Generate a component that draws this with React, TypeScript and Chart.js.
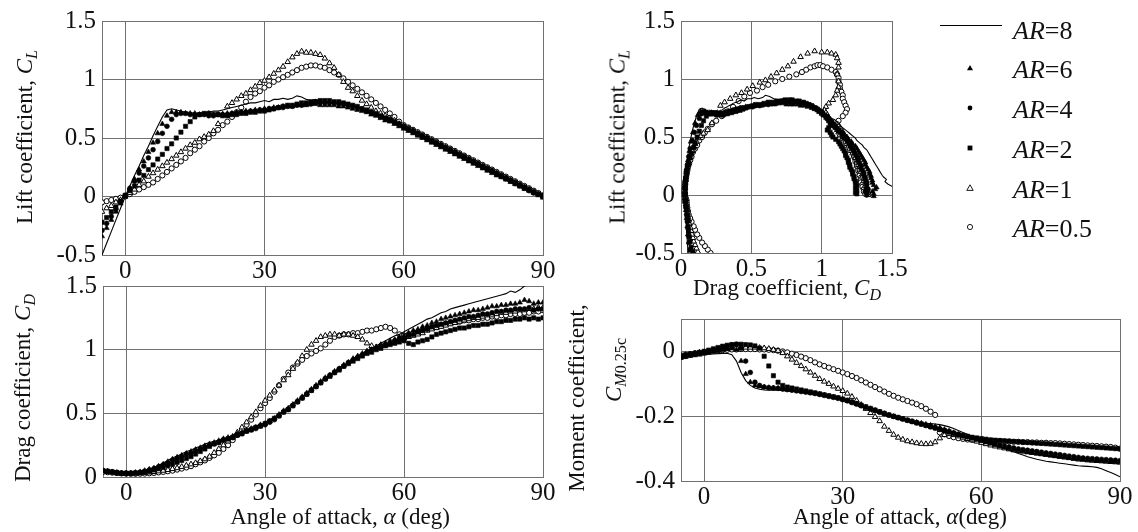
import React, { useEffect, useRef } from "react";
import { Chart, registerables } from "chart.js";

Chart.register(...registerables);

const W = 1138;
const H = 532;

// ---------------- DATA ----------------
const ALPHA = [
  -5, -4, -3, -2, -1, 0, 1, 2, 3, 4,
  5, 6, 7, 8, 9, 10, 11, 12, 13, 14,
  15, 16, 17, 18, 19, 20, 21, 22, 23, 24,
  25, 26, 27, 28, 29, 30, 31, 32, 33, 34,
  35, 36, 37, 38, 39, 40, 41, 42, 43, 44,
  45, 46, 47, 48, 49, 50, 51, 52, 53, 54,
  55, 56, 57, 58, 59, 60, 61, 62, 63, 64,
  65, 66, 67, 68, 69, 70, 71, 72, 73, 74,
  75, 76, 77, 78, 79, 80, 81, 82, 83, 84,
  85, 86, 87, 88, 89, 90,
];
// negative angles below the plotted range (seen only in the drag polar)
const ALPHA_NEG = [-20, -19, -18, -17, -16, -15, -14, -13, -12, -11, -10, -9, -8, -7, -6];

// AR = 8 (solid line)
const AR8_CL = [
  -0.5, -0.4, -0.3, -0.2, -0.1, 0.0, 0.09, 0.18, 0.26, 0.35,
  0.43, 0.52, 0.6, 0.68, 0.74, 0.75, 0.74, 0.73, 0.72, 0.72,
  0.71, 0.71, 0.72, 0.72, 0.73, 0.73, 0.74, 0.75, 0.76, 0.77,
  0.78, 0.79, 0.8, 0.8, 0.81, 0.82, 0.81, 0.83, 0.83, 0.84,
  0.83, 0.84, 0.86, 0.85, 0.83, 0.82, 0.83, 0.81, 0.82, 0.8,
  0.8, 0.79, 0.79, 0.78, 0.77, 0.76, 0.74, 0.73, 0.71, 0.7,
  0.68, 0.66, 0.65, 0.63, 0.61, 0.59, 0.57, 0.55, 0.53, 0.51,
  0.49, 0.47, 0.45, 0.43, 0.41, 0.39, 0.37, 0.35, 0.33, 0.31,
  0.29, 0.27, 0.25, 0.23, 0.21, 0.19, 0.17, 0.155, 0.135, 0.115,
  0.095, 0.075, 0.055, 0.035, 0.015, 0.0,
];
const AR8_CD = [
  0.05, 0.045, 0.04, 0.035, 0.03, 0.03, 0.03, 0.035, 0.04, 0.05,
  0.06, 0.075, 0.09, 0.11, 0.13, 0.15, 0.165, 0.18, 0.2, 0.21,
  0.23, 0.24, 0.26, 0.27, 0.28, 0.29, 0.3, 0.31, 0.33, 0.34,
  0.36, 0.37, 0.39, 0.4, 0.41, 0.43, 0.45, 0.47, 0.5, 0.52,
  0.55, 0.58, 0.6, 0.63, 0.66, 0.69, 0.72, 0.75, 0.78, 0.8,
  0.83, 0.86, 0.88, 0.9, 0.93, 0.95, 0.97, 0.99, 1.01, 1.03,
  1.05, 1.07, 1.09, 1.11, 1.12, 1.14, 1.16, 1.18, 1.2, 1.22,
  1.24, 1.25, 1.27, 1.29, 1.3, 1.32, 1.33, 1.34, 1.35, 1.36,
  1.37, 1.38, 1.39, 1.4, 1.41, 1.42, 1.43, 1.44, 1.46, 1.45,
  1.47, 1.5, 1.52, 1.54, 1.55, 1.56,
];
const AR8_CM = [
  -0.017, -0.015, -0.013, -0.012, -0.011, -0.01, -0.009, -0.008, -0.007, -0.006,
  -0.006, -0.01, -0.03, -0.065, -0.09, -0.105, -0.113, -0.117, -0.119, -0.12,
  -0.12, -0.12, -0.121, -0.122, -0.123, -0.124, -0.125, -0.127, -0.129, -0.131,
  -0.133, -0.136, -0.139, -0.142, -0.146, -0.15, -0.155, -0.16, -0.165, -0.17,
  -0.175, -0.18, -0.186, -0.191, -0.196, -0.2, -0.204, -0.208, -0.211, -0.214,
  -0.216, -0.218, -0.22, -0.222, -0.223, -0.224, -0.226, -0.229, -0.233, -0.238,
  -0.244, -0.25, -0.256, -0.262, -0.268, -0.274, -0.28, -0.285, -0.29, -0.295,
  -0.3, -0.305, -0.31, -0.315, -0.32, -0.325, -0.329, -0.333, -0.336, -0.339,
  -0.341, -0.343, -0.345, -0.347, -0.349, -0.351, -0.353, -0.354, -0.355, -0.356,
  -0.358, -0.362, -0.368, -0.374, -0.38, -0.387,
];
const AR8_CL_NEG = [-0.73, -0.72, -0.72, -0.71, -0.71, -0.72, -0.72, -0.73, -0.74, -0.75, -0.75, -0.74, -0.69, -0.64, -0.58];
const AR8_CD_NEG = [0.29, 0.28, 0.26, 0.25, 0.23, 0.22, 0.2, 0.19, 0.17, 0.15, 0.13, 0.11, 0.09, 0.075, 0.06];

// AR = 6 (filled triangle)
const AR6_CL = [
  -0.34, -0.27, -0.2, -0.13, -0.06, 0.0, 0.07, 0.15, 0.23, 0.3,
  0.38, 0.46, 0.54, 0.62, 0.69, 0.72, 0.72, 0.72, 0.71, 0.71,
  0.71, 0.7, 0.7, 0.71, 0.7, 0.7, 0.7, 0.71, 0.71, 0.72,
  0.72, 0.73, 0.73, 0.74, 0.74, 0.75, 0.75, 0.76, 0.76, 0.77,
  0.77, 0.77, 0.78, 0.78, 0.78, 0.79, 0.79, 0.78, 0.78, 0.78,
  0.78, 0.77, 0.77, 0.76, 0.75, 0.74, 0.73, 0.72, 0.7, 0.69,
  0.67, 0.65, 0.64, 0.62, 0.6, 0.58, 0.56, 0.54, 0.52, 0.5,
  0.48, 0.46, 0.44, 0.42, 0.4, 0.38, 0.36, 0.34, 0.32, 0.3,
  0.28, 0.26, 0.24, 0.22, 0.2, 0.18, 0.165, 0.145, 0.125, 0.105,
  0.085, 0.065, 0.05, 0.03, 0.01, -0.01,
];
const AR6_CD = [
  0.05, 0.045, 0.04, 0.035, 0.03, 0.03, 0.03, 0.035, 0.04, 0.05,
  0.06, 0.07, 0.085, 0.1, 0.12, 0.14, 0.155, 0.17, 0.185, 0.2,
  0.215, 0.23, 0.245, 0.26, 0.27, 0.285, 0.3, 0.31, 0.32, 0.34,
  0.35, 0.37, 0.38, 0.39, 0.41, 0.42, 0.44, 0.46, 0.49, 0.52,
  0.54, 0.57, 0.6, 0.63, 0.66, 0.69, 0.72, 0.75, 0.78, 0.8,
  0.83, 0.85, 0.88, 0.9, 0.93, 0.95, 0.97, 0.99, 1.0, 1.02,
  1.04, 1.05, 1.07, 1.08, 1.1, 1.11, 1.13, 1.15, 1.16, 1.18,
  1.19, 1.21, 1.22, 1.24, 1.25, 1.26, 1.27, 1.28, 1.29, 1.3,
  1.31, 1.31, 1.32, 1.33, 1.34, 1.34, 1.35, 1.35, 1.36, 1.36,
  1.37, 1.39, 1.38, 1.36, 1.37, 1.37,
];
const AR6_CM = [
  -0.02, -0.017, -0.014, -0.012, -0.01, -0.007, -0.004, -0.001, 0.002, 0.005,
  0.008, 0.01, 0.005, -0.03, -0.07, -0.095, -0.105, -0.108, -0.11, -0.112,
  -0.113, -0.114, -0.115, -0.117, -0.119, -0.121, -0.123, -0.125, -0.128, -0.13,
  -0.132, -0.135, -0.138, -0.141, -0.144, -0.148, -0.152, -0.157, -0.162, -0.167,
  -0.172, -0.177, -0.182, -0.187, -0.192, -0.197, -0.201, -0.205, -0.209, -0.213,
  -0.216, -0.219, -0.222, -0.225, -0.228, -0.232, -0.236, -0.241, -0.246, -0.251,
  -0.256, -0.261, -0.265, -0.269, -0.273, -0.277, -0.281, -0.285, -0.289, -0.293,
  -0.296, -0.299, -0.302, -0.305, -0.308, -0.311, -0.313, -0.315, -0.317, -0.319,
  -0.321, -0.323, -0.325, -0.327, -0.329, -0.331, -0.333, -0.334, -0.335, -0.336,
  -0.337, -0.338, -0.339, -0.34, -0.341, -0.342,
];
const AR6_CL_NEG = [-0.71, -0.71, -0.7, -0.7, -0.7, -0.7, -0.71, -0.71, -0.71, -0.72, -0.69, -0.62, -0.55, -0.48, -0.41];
const AR6_CD_NEG = [0.27, 0.26, 0.24, 0.23, 0.21, 0.2, 0.18, 0.17, 0.15, 0.13, 0.1, 0.085, 0.072, 0.063, 0.056];

// AR = 4 (filled circle)
const AR4_CL = [
  -0.29, -0.23, -0.17, -0.11, -0.05, 0.01, 0.07, 0.13, 0.2, 0.26,
  0.33, 0.4, 0.47, 0.54, 0.6, 0.66, 0.7, 0.71, 0.71, 0.7,
  0.7, 0.7, 0.7, 0.69, 0.69, 0.7, 0.7, 0.7, 0.71, 0.71,
  0.72, 0.72, 0.73, 0.73, 0.74, 0.74, 0.75, 0.75, 0.76, 0.76,
  0.77, 0.77, 0.78, 0.78, 0.79, 0.79, 0.8, 0.8, 0.8, 0.8,
  0.8, 0.79, 0.79, 0.78, 0.77, 0.76, 0.75, 0.73, 0.72, 0.7,
  0.68, 0.67, 0.65, 0.63, 0.61, 0.59, 0.57, 0.55, 0.53, 0.51,
  0.49, 0.47, 0.45, 0.43, 0.41, 0.39, 0.37, 0.35, 0.33, 0.31,
  0.29, 0.27, 0.25, 0.23, 0.21, 0.19, 0.17, 0.15, 0.13, 0.11,
  0.09, 0.07, 0.05, 0.03, 0.02, 0.0,
];
const AR4_CD = [
  0.05, 0.045, 0.04, 0.035, 0.03, 0.03, 0.03, 0.033, 0.037, 0.045,
  0.055, 0.065, 0.08, 0.095, 0.11, 0.13, 0.145, 0.16, 0.175, 0.19,
  0.205, 0.22, 0.235, 0.25, 0.26, 0.275, 0.29, 0.3, 0.31, 0.33,
  0.34, 0.36, 0.37, 0.38, 0.4, 0.41, 0.43, 0.45, 0.48, 0.51,
  0.53, 0.56, 0.59, 0.62, 0.65, 0.68, 0.71, 0.74, 0.77, 0.8,
  0.82, 0.85, 0.87, 0.9, 0.92, 0.94, 0.96, 0.98, 1.0, 1.01,
  1.03, 1.04, 1.05, 1.07, 1.08, 1.09, 1.11, 1.12, 1.14, 1.15,
  1.16, 1.18, 1.19, 1.2, 1.21, 1.22, 1.23, 1.24, 1.25, 1.26,
  1.26, 1.27, 1.28, 1.28, 1.29, 1.3, 1.3, 1.31, 1.31, 1.32,
  1.32, 1.32, 1.33, 1.31, 1.32, 1.32,
];
const AR4_CM = [
  -0.018, -0.015, -0.012, -0.009, -0.006, -0.003, 0.0, 0.004, 0.008, 0.012,
  0.016, 0.02, 0.022, 0.01, -0.03, -0.065, -0.095, -0.105, -0.11, -0.112,
  -0.113, -0.114, -0.116, -0.118, -0.12, -0.122, -0.124, -0.126, -0.128, -0.13,
  -0.133, -0.136, -0.139, -0.142, -0.145, -0.149, -0.153, -0.158, -0.163, -0.168,
  -0.173, -0.178, -0.183, -0.188, -0.193, -0.197, -0.201, -0.205, -0.209, -0.213,
  -0.217, -0.221, -0.225, -0.229, -0.233, -0.237, -0.241, -0.245, -0.249, -0.253,
  -0.257, -0.261, -0.264, -0.267, -0.27, -0.273, -0.277, -0.281, -0.285, -0.289,
  -0.292, -0.295, -0.298, -0.301, -0.303, -0.305, -0.307, -0.309, -0.311, -0.313,
  -0.315, -0.317, -0.319, -0.321, -0.323, -0.325, -0.327, -0.329, -0.33, -0.331,
  -0.332, -0.333, -0.334, -0.335, -0.336, -0.337,
];
const AR4_CL_NEG = [-0.7, -0.7, -0.69, -0.69, -0.7, -0.7, -0.7, -0.71, -0.7, -0.65, -0.59, -0.53, -0.47, -0.41, -0.35];
const AR4_CD_NEG = [0.25, 0.24, 0.22, 0.21, 0.19, 0.18, 0.16, 0.15, 0.13, 0.11, 0.09, 0.075, 0.065, 0.058, 0.053];

// AR = 2 (filled square)
const AR2_CL = [
  -0.22, -0.18, -0.13, -0.09, -0.04, 0.01, 0.05, 0.09, 0.14, 0.18,
  0.23, 0.27, 0.32, 0.36, 0.41, 0.45, 0.5, 0.55, 0.6, 0.64,
  0.68, 0.7, 0.71, 0.71, 0.7, 0.7, 0.69, 0.69, 0.7, 0.7,
  0.71, 0.71, 0.72, 0.72, 0.73, 0.73, 0.74, 0.75, 0.76, 0.77,
  0.78, 0.78, 0.79, 0.8, 0.8, 0.81, 0.81, 0.82, 0.82, 0.82,
  0.81, 0.81, 0.8, 0.79, 0.78, 0.77, 0.75, 0.74, 0.72, 0.71,
  0.69, 0.67, 0.66, 0.64, 0.62, 0.6, 0.58, 0.56, 0.54, 0.52,
  0.5, 0.48, 0.46, 0.44, 0.42, 0.4, 0.38, 0.36, 0.34, 0.32,
  0.3, 0.28, 0.26, 0.24, 0.22, 0.2, 0.18, 0.16, 0.14, 0.12,
  0.1, 0.08, 0.06, 0.04, 0.02, 0.01,
];
const AR2_CD = [
  0.05, 0.045, 0.04, 0.035, 0.03, 0.03, 0.03, 0.032, 0.035, 0.04,
  0.045, 0.055, 0.065, 0.075, 0.09, 0.1, 0.115, 0.13, 0.145, 0.16,
  0.18, 0.2, 0.22, 0.24, 0.26, 0.27, 0.29, 0.3, 0.31, 0.33,
  0.34, 0.36, 0.37, 0.39, 0.4, 0.42, 0.44, 0.46, 0.48, 0.51,
  0.53, 0.56, 0.59, 0.62, 0.65, 0.68, 0.71, 0.74, 0.77, 0.79,
  0.82, 0.84, 0.87, 0.89, 0.91, 0.93, 0.95, 0.97, 0.98, 1.0,
  1.01, 1.03, 1.04, 1.05, 1.06, 1.07, 1.05, 1.04, 1.06, 1.07,
  1.08, 1.1, 1.12, 1.13, 1.14, 1.15, 1.16, 1.17, 1.17, 1.18,
  1.19, 1.19, 1.2, 1.2, 1.21, 1.22, 1.22, 1.23, 1.23, 1.24,
  1.24, 1.25, 1.24, 1.25, 1.24, 1.25,
];
const AR2_CM = [
  -0.015, -0.012, -0.009, -0.006, -0.003, 0.0, 0.004, 0.008, 0.012, 0.016,
  0.019, 0.021, 0.022, 0.022, 0.021, 0.02, 0.017, 0.01, -0.015, -0.045,
  -0.075, -0.095, -0.105, -0.11, -0.113, -0.116, -0.119, -0.122, -0.125, -0.128,
  -0.131, -0.134, -0.137, -0.14, -0.143, -0.147, -0.151, -0.156, -0.161, -0.166,
  -0.171, -0.176, -0.181, -0.186, -0.191, -0.196, -0.2, -0.204, -0.208, -0.212,
  -0.216, -0.22, -0.224, -0.228, -0.232, -0.236, -0.24, -0.244, -0.248, -0.252,
  -0.256, -0.259, -0.262, -0.265, -0.267, -0.269, -0.271, -0.273, -0.274, -0.275,
  -0.276, -0.277, -0.278, -0.279, -0.28, -0.281, -0.282, -0.283, -0.284, -0.285,
  -0.286, -0.287, -0.288, -0.289, -0.29, -0.291, -0.292, -0.293, -0.294, -0.295,
  -0.296, -0.297, -0.298, -0.299, -0.3, -0.301,
];
const AR2_CL_NEG = [-0.7, -0.7, -0.7, -0.7, -0.69, -0.67, -0.63, -0.59, -0.54, -0.49, -0.45, -0.4, -0.36, -0.31, -0.27];
const AR2_CD_NEG = [0.25, 0.24, 0.22, 0.2, 0.18, 0.16, 0.14, 0.12, 0.1, 0.085, 0.072, 0.064, 0.058, 0.054, 0.051];

// AR = 1 (open triangle)
const AR1_CL = [
  -0.13, -0.1, -0.08, -0.05, -0.03, 0.0, 0.03, 0.06, 0.1, 0.13,
  0.17, 0.2, 0.23, 0.26, 0.29, 0.32, 0.35, 0.38, 0.41, 0.44,
  0.46, 0.49, 0.51, 0.53, 0.56, 0.62, 0.7, 0.77, 0.8, 0.83,
  0.86, 0.88, 0.91, 0.94, 0.97, 0.99, 1.02, 1.05, 1.08, 1.11,
  1.15, 1.19, 1.22, 1.24, 1.23, 1.23, 1.22, 1.21, 1.18, 1.14,
  1.1, 1.04, 0.98, 0.93, 0.9, 0.86, 0.82, 0.79, 0.76, 0.73,
  0.71, 0.69, 0.67, 0.65, 0.62, 0.6, 0.58, 0.56, 0.54, 0.52,
  0.5, 0.48, 0.46, 0.44, 0.42, 0.4, 0.38, 0.36, 0.34, 0.32,
  0.3, 0.28, 0.26, 0.24, 0.22, 0.2, 0.18, 0.16, 0.14, 0.12,
  0.1, 0.08, 0.06, 0.04, 0.02, 0.0,
];
const AR1_CD = [
  0.045, 0.04, 0.035, 0.03, 0.028, 0.027, 0.027, 0.028, 0.03, 0.033,
  0.036, 0.04, 0.045, 0.05, 0.056, 0.063, 0.07, 0.08, 0.09, 0.1,
  0.11, 0.125, 0.14, 0.16, 0.19, 0.22, 0.25, 0.28, 0.31, 0.35,
  0.39, 0.43, 0.47, 0.51, 0.56, 0.6, 0.64, 0.68, 0.72, 0.76,
  0.8, 0.85, 0.9, 0.95, 1.0, 1.04, 1.07, 1.1, 1.11, 1.12,
  1.12, 1.11, 1.12, 1.12, 1.11, 1.1, 1.08, 1.05, 1.03, 1.02,
  1.03, 1.04, 1.05, 1.06, 1.08, 1.09, 1.1, 1.11, 1.12, 1.13,
  1.15, 1.16, 1.17, 1.18, 1.19, 1.2, 1.21, 1.22, 1.23, 1.24,
  1.25, 1.25, 1.26, 1.27, 1.27, 1.28, 1.29, 1.29, 1.3, 1.3,
  1.31, 1.31, 1.32, 1.32, 1.33, 1.33,
];
const AR1_CM = [
  -0.015, -0.012, -0.009, -0.006, -0.004, -0.002, 0.0, 0.002, 0.004, 0.006,
  0.008, 0.01, 0.011, 0.012, 0.012, 0.012, 0.012, 0.011, 0.01, 0.008,
  0.005, 0.002, -0.005, -0.015, -0.025, -0.035, -0.045, -0.055, -0.065, -0.075,
  -0.085, -0.093, -0.1, -0.108, -0.115, -0.122, -0.13, -0.14, -0.152, -0.165,
  -0.177, -0.19, -0.202, -0.215, -0.232, -0.245, -0.257, -0.266, -0.272, -0.277,
  -0.28, -0.283, -0.285, -0.286, -0.285, -0.28, -0.268, -0.258, -0.255, -0.258,
  -0.262, -0.266, -0.27, -0.274, -0.278, -0.282, -0.286, -0.29, -0.293, -0.296,
  -0.299, -0.302, -0.305, -0.307, -0.309, -0.311, -0.313, -0.315, -0.317, -0.319,
  -0.321, -0.323, -0.325, -0.327, -0.329, -0.331, -0.333, -0.334, -0.336, -0.337,
  -0.338, -0.339, -0.34, -0.341, -0.342, -0.343,
];
const AR1_CL_NEG = [-0.6, -0.56, -0.52, -0.49, -0.46, -0.43, -0.4, -0.37, -0.34, -0.31, -0.28, -0.25, -0.22, -0.19, -0.16];
const AR1_CD_NEG = [0.15, 0.14, 0.13, 0.12, 0.11, 0.1, 0.09, 0.085, 0.078, 0.072, 0.066, 0.06, 0.055, 0.05, 0.047];

// AR = 0.5 (open circle)
const AR05_CL = [
  -0.05, -0.04, -0.03, -0.02, -0.01, 0.0, 0.02, 0.04, 0.06, 0.08,
  0.1, 0.12, 0.15, 0.18, 0.21, 0.24, 0.27, 0.3, 0.33, 0.37,
  0.4, 0.43, 0.47, 0.5, 0.54, 0.57, 0.61, 0.64, 0.68, 0.72,
  0.76, 0.81, 0.85, 0.88, 0.9, 0.93, 0.95, 0.98, 1.0, 1.02,
  1.04, 1.06, 1.08, 1.1, 1.11, 1.12, 1.12, 1.11, 1.1, 1.08,
  1.06, 1.04, 1.01, 0.98, 0.95, 0.92, 0.89, 0.86, 0.83, 0.8,
  0.77, 0.74, 0.71, 0.68, 0.64, 0.61, 0.59, 0.57, 0.55, 0.53,
  0.51, 0.49, 0.47, 0.45, 0.43, 0.41, 0.39, 0.37, 0.35, 0.33,
  0.31, 0.29, 0.27, 0.25, 0.23, 0.21, 0.19, 0.17, 0.15, 0.13,
  0.11, 0.09, 0.07, 0.05, 0.03, 0.01,
];
const AR05_CD = [
  0.04, 0.037, 0.034, 0.031, 0.028, 0.026, 0.025, 0.025, 0.026, 0.027,
  0.029, 0.032, 0.036, 0.04, 0.045, 0.05, 0.058, 0.066, 0.075, 0.085,
  0.1, 0.115, 0.13, 0.15, 0.17, 0.19, 0.22, 0.25, 0.29, 0.33,
  0.37, 0.41, 0.45, 0.49, 0.54, 0.58, 0.62, 0.67, 0.72, 0.77,
  0.82, 0.86, 0.89, 0.92, 0.95, 0.97, 0.99, 1.01, 1.04, 1.07,
  1.1, 1.11, 1.12, 1.12, 1.13, 1.13, 1.14, 1.15, 1.15, 1.16,
  1.17, 1.18, 1.17, 1.15, 1.12, 1.11, 1.12, 1.13, 1.14, 1.15,
  1.16, 1.17, 1.18, 1.19, 1.2, 1.21, 1.22, 1.22, 1.23, 1.23,
  1.24, 1.24, 1.25, 1.25, 1.26, 1.26, 1.27, 1.27, 1.28, 1.28,
  1.28, 1.29, 1.29, 1.3, 1.3, 1.31,
];
const AR05_CM = [
  -0.012, -0.01, -0.008, -0.006, -0.004, -0.002, 0.0, 0.002, 0.003, 0.004,
  0.005, 0.006, 0.006, 0.007, 0.007, 0.007, 0.007, 0.006, 0.006, 0.005,
  0.004, 0.002, 0.0, -0.003, -0.007, -0.011, -0.016, -0.021, -0.027, -0.034,
  -0.04, -0.045, -0.05, -0.055, -0.06, -0.065, -0.07, -0.076, -0.082, -0.089,
  -0.096, -0.103, -0.11, -0.117, -0.124, -0.131, -0.137, -0.143, -0.148, -0.153,
  -0.158, -0.163, -0.169, -0.177, -0.186, -0.196, -0.25, -0.256, -0.261, -0.265,
  -0.268, -0.27, -0.272, -0.273, -0.274, -0.275, -0.276, -0.276, -0.277, -0.277,
  -0.278, -0.278, -0.279, -0.279, -0.28, -0.28, -0.281, -0.281, -0.282, -0.282,
  -0.283, -0.283, -0.284, -0.285, -0.286, -0.287, -0.288, -0.289, -0.29, -0.291,
  -0.292, -0.293, -0.294, -0.295, -0.297, -0.3,
];
const AR05_CL_NEG = [-0.5, -0.47, -0.44, -0.41, -0.37, -0.34, -0.3, -0.27, -0.23, -0.2, -0.17, -0.14, -0.11, -0.09, -0.07];
const AR05_CD_NEG = [0.21, 0.19, 0.17, 0.15, 0.13, 0.115, 0.1, 0.09, 0.075, 0.065, 0.055, 0.05, 0.045, 0.042, 0.04];

const AR_LABELS = ["8", "6", "4", "2", "1", "0.5"];

// tick values / labels
const ALPHA_TICKS = [-5, 0, 30, 60, 90];
const ALPHA_TICK_LABELS = ["", "0", "30", "60", "90"];
const CL_TICKS = [-0.5, 0, 0.5, 1, 1.5];
const CL_TICK_LABELS = ["-0.5", "0", "0.5", "1", "1.5"];
const CD_TICKS = [0, 0.5, 1, 1.5];
const CD_TICK_LABELS = ["0", "0.5", "1", "1.5"];
const CM_TICKS = [-0.4, -0.2, 0, 0.1];
const CM_TICK_LABELS = ["-0.4", "-0.2", "0", ""];

// ---------------- STYLE / LAYOUT ----------------
const SERIF = '"Liberation Serif", "Times New Roman", Times, serif';
const GRID = "#707070";
const INK = "#111111";
const YW = 70; // fixed y-axis box width
const XH = 40; // fixed x-axis box height
const TICK_SIZE = 25;
const TITLE_SIZE = 23;
const LEGEND_SIZE = 26;

type Box = { left: number; right: number; top: number; bottom: number };
const BOX_TL: Box = { left: 102, right: 543, top: 19, bottom: 255 };
const BOX_TR: Box = { left: 681, right: 892, top: 19, bottom: 253 };
const BOX_BL: Box = { left: 103, right: 543, top: 286, bottom: 477 };
const BOX_BR: Box = { left: 681, right: 1120, top: 319, bottom: 481 };

type Series = {
  ar: string;
  cl: number[];
  cd: number[];
  cm: number[];
  clNeg: number[];
  cdNeg: number[];
  style: any;
};

const LINE_STYLE = { showLine: true, pointRadius: 0, borderColor: "#000", borderWidth: 1.1, tension: 0 };
const mk = (pointStyle: string, r: number, filled: boolean) => ({
  showLine: false,
  pointStyle,
  pointRadius: r,
  pointBackgroundColor: filled ? "#000" : "#fff",
  pointBorderColor: "#000",
  pointBorderWidth: filled ? 0.6 : 1,
});

const SERIES: Series[] = [
  { ar: AR_LABELS[0], cl: AR8_CL, cd: AR8_CD, cm: AR8_CM, clNeg: AR8_CL_NEG, cdNeg: AR8_CD_NEG, style: LINE_STYLE },
  { ar: AR_LABELS[1], cl: AR6_CL, cd: AR6_CD, cm: AR6_CM, clNeg: AR6_CL_NEG, cdNeg: AR6_CD_NEG, style: mk("triangle", 3, true) },
  { ar: AR_LABELS[2], cl: AR4_CL, cd: AR4_CD, cm: AR4_CM, clNeg: AR4_CL_NEG, cdNeg: AR4_CD_NEG, style: mk("circle", 2.4, true) },
  { ar: AR_LABELS[3], cl: AR2_CL, cd: AR2_CD, cm: AR2_CM, clNeg: AR2_CL_NEG, cdNeg: AR2_CD_NEG, style: mk("rect", 3, true) },
  { ar: AR_LABELS[4], cl: AR1_CL, cd: AR1_CD, cm: AR1_CM, clNeg: AR1_CL_NEG, cdNeg: AR1_CD_NEG, style: mk("triangle", 3.2, false) },
  { ar: AR_LABELS[5], cl: AR05_CL, cd: AR05_CD, cm: AR05_CM, clNeg: AR05_CL_NEG, cdNeg: AR05_CD_NEG, style: mk("circle", 2.6, false) },
];

type AxisDef = { min: number; max: number; ticks: number[]; labels: string[] };

function axis(def: AxisDef, dir: "x" | "y") {
  return {
    type: "linear",
    min: def.min,
    max: def.max,
    afterBuildTicks: (s: any) => {
      s.ticks = def.ticks.map((v) => ({ value: v }));
    },
    afterFit: (s: any) => {
      if (dir === "x") s.height = XH;
      else s.width = YW;
    },
    grid: { color: GRID, lineWidth: 1, drawTicks: false },
    border: { display: true, color: GRID, width: 1 },
    ticks: {
      autoSkip: false,
      maxRotation: 0,
      minRotation: 0,
      padding: dir === "x" ? 1 : 6,
      color: INK,
      font: { family: SERIF, size: TICK_SIZE },
      callback: (_v: any, i: number) => def.labels[i],
    },
  };
}

function buildConfig(datasets: any[], box: Box, xd: AxisDef, yd: AxisDef) {
  return {
    type: "scatter",
    data: { datasets },
    options: {
      animation: false,
      responsive: false,
      maintainAspectRatio: false,
      devicePixelRatio: 1,
      events: [],
      layout: {
        padding: { left: box.left - YW, right: W - box.right, top: box.top, bottom: H - box.bottom - XH },
      },
      plugins: { legend: { display: false }, tooltip: { enabled: false }, title: { display: false } },
      scales: { x: axis(xd, "x"), y: axis(yd, "y") },
    },
  };
}

const alphaSets = (key: "cl" | "cd" | "cm") =>
  SERIES.map((s) => ({
    label: "AR=" + s.ar,
    data: ALPHA.map((a, i) => ({ x: a, y: s[key][i] })),
    ...s.style,
  }));

const polarSets = () =>
  SERIES.map((s) => ({
    label: "AR=" + s.ar,
    data: [
      ...ALPHA_NEG.map((_a, i) => ({ x: s.cdNeg[i], y: s.clNeg[i] })),
      ...ALPHA.map((_a, i) => ({ x: s.cd[i], y: s.cl[i] })),
    ],
    ...s.style,
  }));

const ALPHA_AXIS: AxisDef = { min: -5, max: 90, ticks: ALPHA_TICKS, labels: ALPHA_TICK_LABELS };
const CL_AXIS: AxisDef = { min: -0.5, max: 1.5, ticks: CL_TICKS, labels: CL_TICK_LABELS };
const CD_AXIS: AxisDef = { min: 0, max: 1.5, ticks: CD_TICKS, labels: CD_TICK_LABELS };
const CM_AXIS: AxisDef = { min: -0.4, max: 0.1, ticks: CM_TICKS, labels: CM_TICK_LABELS };

function ChartLayer({ make }: { make: () => any }) {
  const ref = useRef<HTMLCanvasElement | null>(null);
  useEffect(() => {
    if (!ref.current) return;
    const chart = new Chart(ref.current, make());
    return () => chart.destroy();
  }, []);
  return (
    <canvas
      ref={ref}
      width={W}
      height={H}
      style={{ position: "absolute", left: 0, top: 0, width: W, height: H }}
    />
  );
}

const Sub = ({ children }: { children: React.ReactNode }) => (
  <span style={{ fontSize: "0.7em", position: "relative", top: "0.32em" }}>{children}</span>
);

function Text({
  x,
  y,
  rot,
  size = TITLE_SIZE,
  children,
}: {
  x: number;
  y: number;
  rot?: boolean;
  size?: number;
  children: React.ReactNode;
}) {
  return (
    <div
      style={{
        position: "absolute",
        left: x,
        top: y,
        transform: rot ? "translate(-50%,-50%) rotate(-90deg)" : "translate(-50%,-50%)",
        fontFamily: SERIF,
        fontSize: size,
        lineHeight: 1,
        whiteSpace: "nowrap",
        color: INK,
      }}
    >
      {children}
    </div>
  );
}

function LegendMarker({ kind, x, y }: { kind: number; x: number; y: number }) {
  const s = 12;
  let shape: React.ReactNode = null;
  if (kind === 1) shape = <polygon points="6,3 9,8.2 3,8.2" fill="#000" />;
  if (kind === 2) shape = <circle cx="6" cy="6" r="2.4" fill="#000" />;
  if (kind === 3) shape = <rect x="3.6" y="3.6" width="4.8" height="4.8" fill="#000" />;
  if (kind === 4) shape = <polygon points="6,2.8 9.2,8.4 2.8,8.4" fill="#fff" stroke="#000" strokeWidth="0.9" />;
  if (kind === 5) shape = <circle cx="6" cy="6" r="2.6" fill="#fff" stroke="#000" strokeWidth="0.9" />;
  return (
    <svg width={s} height={s} style={{ position: "absolute", left: x - s / 2, top: y - s / 2 }}>
      {shape}
    </svg>
  );
}

const LEGEND_Y = [31, 70, 110, 150, 190, 229];

export default function App() {
  return (
    <div style={{ position: "absolute", left: 0, top: 0, width: W, height: H, background: "#fff", overflow: "hidden" }}>
      <ChartLayer make={() => buildConfig(alphaSets("cl"), BOX_TL, ALPHA_AXIS, CL_AXIS)} />
      <ChartLayer make={() => buildConfig(polarSets(), BOX_TR, CD_AXIS, CL_AXIS)} />
      <ChartLayer make={() => buildConfig(alphaSets("cd"), BOX_BL, ALPHA_AXIS, CD_AXIS)} />
      <ChartLayer make={() => buildConfig(alphaSets("cm"), BOX_BR, ALPHA_AXIS, CM_AXIS)} />

      {/* axis titles */}
      <Text x={24} y={137} rot>
        Lift coefficient, <i>C</i>
        <Sub>
          <i>L</i>
        </Sub>
      </Text>
      <Text x={617} y={137} rot>
        Lift coefficient, <i>C</i>
        <Sub>
          <i>L</i>
        </Sub>
      </Text>
      <Text x={787} y={287}>
        Drag coefficient, <i>C</i>
        <Sub>
          <i>D</i>
        </Sub>
      </Text>
      <Text x={22} y={388} rot>
        Drag coefficient, <i>C</i>
        <Sub>
          <i>D</i>
        </Sub>
      </Text>
      <Text x={340} y={516}>
        Angle of attack, <i>α</i> (deg)
      </Text>
      <Text x={576} y={398} rot>
        Moment coefficient,
      </Text>
      <Text x={613} y={370} rot>
        <i>C</i>
        <Sub>
          <i>M</i>0.25c
        </Sub>
      </Text>
      <Text x={900} y={516}>
        Angle of attack, <i>α</i>(deg)
      </Text>

      {/* legend */}
      <div style={{ position: "absolute", left: 940, top: 25, width: 62, borderTop: "1px solid #000" }} />
      {LEGEND_Y.map((y, i) => (
        <React.Fragment key={i}>
          {i > 0 && <LegendMarker kind={i} x={970} y={y - 2} />}
          <div
            style={{
              position: "absolute",
              left: 1013,
              top: y,
              transform: "translateY(-50%)",
              fontFamily: SERIF,
              fontSize: LEGEND_SIZE,
              lineHeight: 1,
              whiteSpace: "nowrap",
              color: INK,
            }}
          >
            <i>AR</i>={AR_LABELS[i]}
          </div>
        </React.Fragment>
      ))}
    </div>
  );
}
